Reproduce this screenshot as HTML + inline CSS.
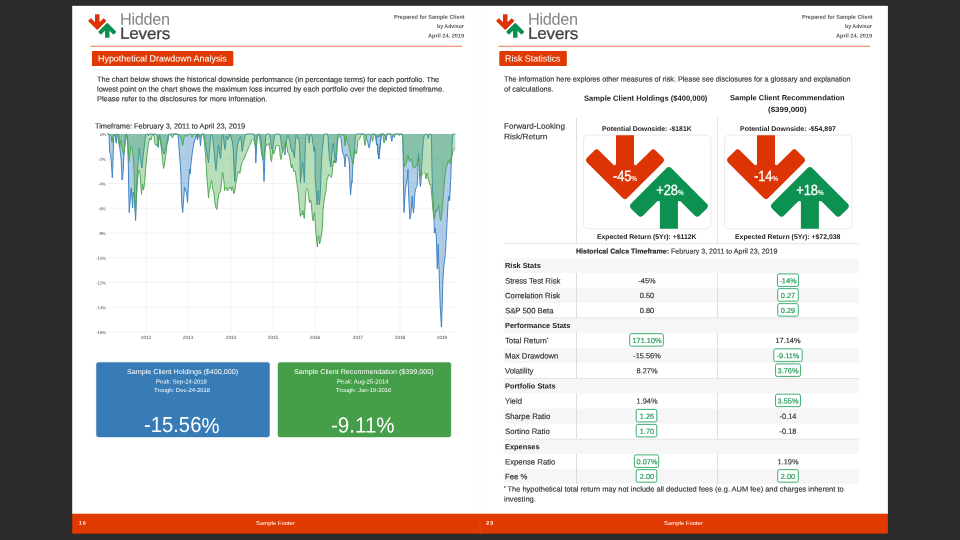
<!DOCTYPE html><html><head><meta charset="utf-8"><title>Risk Report</title><style>
html,body{margin:0;padding:0;background:#2b2b2b;width:960px;height:540px;overflow:hidden}
body{position:relative;font-family:'Liberation Sans', sans-serif}
.t{position:absolute;white-space:nowrap;display:block}.k{-webkit-text-stroke:0.15px currentColor}
.pg{position:absolute;top:5.6px;width:408px;height:528.4px;background:#fff}
.bar{position:absolute;background:#e03a02}
</style></head><body>
<svg style="position:absolute;left:0;top:0" width="960" height="540" viewBox="0 0 960 540"><rect x="71.90" y="5.50" width="816.30" height="528.50" fill="#1f1f1f"/><rect x="72.20" y="5.80" width="815.70" height="508.20" fill="#fff"/><rect x="479.75" y="5.80" width="0.50" height="507.90" fill="#f3f3f3"/><rect x="90.40" y="45.82" width="371.60" height="0.86" fill="#e8623c"/><rect x="498.40" y="45.82" width="371.60" height="0.86" fill="#e8623c"/><rect x="72.20" y="513.70" width="815.70" height="20.00" fill="#e03a02"/><rect x="479.80" y="513.70" width="0.50" height="20.00" fill="#e65a2a"/><rect x="91.95" y="51.10" width="141.35" height="14.95" fill="#e03a02" rx="1"/><rect x="499.30" y="51.10" width="67.50" height="14.95" fill="#e03a02" rx="1"/><rect x="96.40" y="362.40" width="173.10" height="74.60" fill="#377cb7" rx="2" stroke="#2f6fa8" stroke-width="0.4"/><rect x="278.00" y="362.40" width="172.90" height="74.60" fill="#459e48" rx="2" stroke="#3c8f40" stroke-width="0.4"/></svg>
<svg style="position:absolute;left:86.00px;top:12px" width="32" height="28" viewBox="86 12 32 28"><path d="M95.00 14.20L95.00 21.43A0.30 0.30 0 0 1 94.49 21.64L91.50 18.65A0.85 0.85 0 0 0 90.30 18.65L88.60 20.35A0.85 0.85 0 0 0 88.60 21.55L96.65 29.60A0.85 0.85 0 0 0 97.85 29.60L105.90 21.55A0.85 0.85 0 0 0 105.90 20.35L104.20 18.65A0.85 0.85 0 0 0 103.00 18.65L100.01 21.64A0.30 0.30 0 0 1 99.50 21.43L99.50 14.20Z" fill="#dc3405"/><path d="M105.00 37.80L105.00 31.37A0.30 0.30 0 0 0 104.49 31.16L101.50 34.15A0.85 0.85 0 0 1 100.30 34.15L98.60 32.45A0.85 0.85 0 0 1 98.60 31.25L106.65 23.20A0.85 0.85 0 0 1 107.85 23.20L115.90 31.25A0.85 0.85 0 0 1 115.90 32.45L114.20 34.15A0.85 0.85 0 0 1 113.00 34.15L110.01 31.16A0.30 0.30 0 0 0 109.50 31.37L109.50 37.80Z" fill="#0d9150"/></svg>
<svg style="position:absolute;left:494.00px;top:12px" width="32" height="28" viewBox="86 12 32 28"><path d="M95.00 14.20L95.00 21.43A0.30 0.30 0 0 1 94.49 21.64L91.50 18.65A0.85 0.85 0 0 0 90.30 18.65L88.60 20.35A0.85 0.85 0 0 0 88.60 21.55L96.65 29.60A0.85 0.85 0 0 0 97.85 29.60L105.90 21.55A0.85 0.85 0 0 0 105.90 20.35L104.20 18.65A0.85 0.85 0 0 0 103.00 18.65L100.01 21.64A0.30 0.30 0 0 1 99.50 21.43L99.50 14.20Z" fill="#dc3405"/><path d="M105.00 37.80L105.00 31.37A0.30 0.30 0 0 0 104.49 31.16L101.50 34.15A0.85 0.85 0 0 1 100.30 34.15L98.60 32.45A0.85 0.85 0 0 1 98.60 31.25L106.65 23.20A0.85 0.85 0 0 1 107.85 23.20L115.90 31.25A0.85 0.85 0 0 1 115.90 32.45L114.20 34.15A0.85 0.85 0 0 1 113.00 34.15L110.01 31.16A0.30 0.30 0 0 0 109.50 31.37L109.50 37.80Z" fill="#0d9150"/></svg>
<svg style="position:absolute;left:100px;top:128px" width="362" height="210" viewBox="100 128 362 210"><g stroke="#ebebeb" stroke-width="0.6"><path d="M107.6 158.75H455.4"/><path d="M107.6 183.50H455.4"/><path d="M107.6 208.25H455.4"/><path d="M107.6 233.00H455.4"/><path d="M107.6 257.75H455.4"/><path d="M107.6 282.50H455.4"/><path d="M107.6 307.25H455.4"/><path d="M107.6 332.00H455.4"/><path d="M146.00 134.0V332.0"/><path d="M188.35 134.0V332.0"/><path d="M230.70 134.0V332.0"/><path d="M273.05 134.0V332.0"/><path d="M315.40 134.0V332.0"/><path d="M357.75 134.0V332.0"/><path d="M400.10 134.0V332.0"/><path d="M442.45 134.0V332.0"/></g><path d="M107.3 134.0L109.0 134.2L109.3 143.0L109.6 152.5L110.6 154.0L111.5 165.0L112.3 177.8L112.8 168.0L113.3 150.0L113.7 137.0L114.2 134.2L115.0 135.0L115.6 139.0L116.2 143.2L116.7 138.0L117.2 134.5L118.0 134.0L118.8 134.5L119.2 140.0L119.8 148.0L120.5 153.5L121.2 160.0L122.0 180.0L122.5 179.0L123.2 172.0L123.8 158.0L124.5 148.0L125.0 140.0L125.5 134.5L126.5 134.0L127.2 136.0L127.7 143.0L128.0 155.0L128.3 163.0L128.6 184.0L129.2 212.5L130.2 200.0L131.2 188.0L132.0 199.0L132.6 208.0L133.2 192.0L134.0 196.0L135.0 210.0L135.6 220.5L136.3 200.0L137.0 178.0L138.0 164.0L139.2 148.0L140.5 160.0L142.0 168.0L143.5 153.0L144.5 145.0L145.5 135.0L146.5 134.0L148.0 134.2L148.5 136.0L149.0 134.2L151.0 134.0L154.0 134.2L156.0 134.0L157.5 136.0L158.2 147.5L158.8 138.0L159.5 134.5L160.5 140.0L162.0 148.0L164.0 154.0L165.2 150.0L166.5 145.0L168.0 141.0L168.5 136.0L169.2 134.2L174.0 134.0L178.0 134.2L178.5 140.0L179.0 148.0L179.8 158.0L180.5 168.0L181.0 178.0L181.4 195.0L182.0 206.0L182.7 212.5L183.6 200.0L184.5 187.0L185.5 190.0L186.5 193.0L187.5 202.5L188.2 190.0L188.6 183.0L189.0 176.0L189.7 169.0L190.2 174.0L191.0 163.0L192.0 155.0L193.0 148.0L194.0 143.0L195.0 139.0L196.0 136.0L197.0 134.5L197.5 139.5L198.0 135.0L199.0 134.2L196.0 134.5L196.8 136.0L197.4 140.0L198.0 135.0L199.0 134.2L199.8 138.0L200.5 146.0L201.2 138.0L201.8 134.2L203.0 134.0L204.0 134.5L205.0 140.0L206.0 148.0L207.0 154.0L208.5 163.0L209.5 150.0L210.5 138.0L211.0 134.2L211.8 135.0L212.8 139.0L214.0 150.0L215.0 162.0L216.0 170.5L217.0 160.0L218.0 149.0L218.5 145.0L219.2 150.0L220.0 156.0L220.7 158.5L221.5 145.0L222.2 136.0L222.8 134.2L223.5 136.0L224.3 145.0L225.0 149.5L225.8 142.0L226.5 136.0L227.2 138.0L228.0 139.5L229.0 137.0L230.0 134.2L230.8 136.0L231.5 139.0L232.5 142.0L233.2 150.0L234.0 170.0L234.8 182.0L235.5 170.0L236.5 155.0L237.5 145.0L238.5 142.0L239.5 139.0L240.5 136.5L241.2 140.0L242.0 151.5L243.0 147.0L244.0 140.0L245.0 136.0L246.0 134.2L248.0 134.0L252.0 134.0L254.0 134.2L254.8 140.0L255.5 149.0L255.8 163.0L256.4 150.0L257.0 138.0L257.8 134.2L258.8 134.0L260.0 134.5L261.0 140.0L262.0 150.0L263.0 159.0L263.6 170.0L264.0 181.5L264.5 170.0L265.0 150.0L265.5 140.0L266.2 134.5L268.0 134.0L269.5 134.2L270.5 140.0L271.5 148.0L272.5 150.0L273.5 143.0L274.5 136.0L275.5 134.2L279.0 134.0L280.5 136.0L281.5 145.0L282.5 150.0L284.0 151.5L285.0 155.0L285.7 144.0L286.5 140.0L287.5 136.0L288.0 135.0L288.0 135.0L289.0 138.0L290.0 142.0L291.0 148.0L292.0 151.5L293.0 150.0L293.8 155.0L294.5 158.0L295.2 145.0L296.0 135.0L296.8 136.0L297.5 138.5L298.5 137.5L299.2 142.0L299.8 155.0L300.2 170.0L300.4 183.0L300.7 178.0L301.1 177.0L301.8 168.0L302.6 162.0L303.2 168.0L303.8 175.0L304.3 182.5L304.6 174.0L305.0 155.0L305.5 140.0L306.0 134.5L307.0 134.0L308.0 134.2L308.5 138.0L309.2 143.0L309.8 137.0L310.5 134.2L311.5 134.5L312.0 136.0L312.8 143.0L313.5 146.0L314.0 151.5L314.6 147.0L315.0 155.0L315.2 178.0L315.8 186.0L316.5 196.0L317.2 205.0L317.8 198.0L318.3 191.0L318.8 198.0L319.4 205.0L320.0 198.0L320.5 188.0L320.8 178.0L321.0 173.0L321.6 160.0L322.2 150.0L322.8 145.0L323.5 138.0L324.0 134.5L325.0 134.0L327.5 134.0L328.0 136.0L328.5 145.0L329.2 155.0L330.0 162.0L330.8 167.0L331.5 160.0L332.2 150.0L332.8 145.0L333.5 143.0L334.0 150.0L334.8 158.0L335.5 163.0L336.2 162.0L336.8 155.0L337.2 142.0L337.7 134.5L338.5 134.0L339.5 134.2L340.0 135.5L340.8 137.0L341.5 142.0L342.2 150.0L343.0 154.0L343.8 155.0L344.5 160.0L345.0 167.0L345.5 158.0L346.0 154.0L347.0 155.5L348.0 157.0L348.8 159.0L349.5 165.0L349.8 178.0L350.0 186.0L350.6 195.0L351.2 187.0L351.8 181.0L352.2 182.5L352.5 170.0L353.0 164.0L353.8 158.0L354.5 150.0L355.0 142.0L355.5 136.0L356.0 134.2L358.0 134.0L362.0 134.0L365.0 134.2L366.0 136.0L366.7 140.0L367.5 140.5L368.3 145.0L369.2 148.0L370.0 144.0L370.8 138.0L371.5 134.5L373.0 134.0L375.0 134.2L375.8 138.0L376.5 145.0L377.2 144.0L378.0 153.0L378.8 159.0L379.5 152.0L380.2 145.0L381.0 137.0L381.7 134.2L383.0 134.0L376.0 138.0L376.8 145.0L377.5 144.0L378.2 153.0L378.8 159.0L379.5 152.0L380.2 145.0L381.0 137.0L381.7 134.2L383.0 134.0L384.5 134.5L385.2 137.0L386.0 140.5L386.8 136.0L387.5 134.2L390.0 134.0L390.8 136.0L391.8 141.5L392.5 137.0L393.2 134.5L394.5 134.0L398.5 134.2L399.5 135.5L400.2 134.2L402.2 134.0L402.8 140.0L403.2 160.0L403.4 178.0L403.6 193.0L404.0 212.5L404.8 198.0L405.5 188.0L406.2 184.0L407.0 181.0L408.0 169.5L408.2 184.0L408.8 198.0L409.5 212.0L410.0 219.0L410.8 215.0L411.5 206.0L412.2 196.0L412.8 207.0L413.4 213.0L414.0 208.0L414.5 198.0L415.2 191.0L416.0 188.0L416.8 186.5L417.4 183.0L417.8 170.0L418.0 160.0L418.5 153.5L419.0 160.0L419.6 178.0L420.3 186.5L421.0 182.0L421.5 170.0L422.0 160.0L423.0 145.0L424.0 136.0L425.0 134.2L426.0 134.0L427.5 134.5L428.2 138.5L429.0 134.5L430.0 134.0L431.0 134.2L431.5 140.0L431.8 160.0L432.2 178.0L432.5 188.0L433.2 203.0L434.0 218.0L434.3 230.0L434.3 233.0L435.1 228.0L436.3 236.0L437.3 269.0L438.2 244.4L439.2 275.0L440.2 305.6L441.4 327.0L442.2 305.6L442.9 281.0L443.9 265.0L445.3 254.6L446.1 240.0L446.5 232.0L447.0 223.0L447.5 213.0L448.0 203.0L448.5 198.0L449.0 196.0L449.6 201.0L450.0 193.0L450.5 183.0L450.8 178.0L451.0 170.0L451.5 160.0L452.0 145.0L452.5 135.0L453.2 134.0L455.3 134.0L455.3 134L107.3 134Z" fill="#3a82c4" fill-opacity="0.4" stroke="none"/><path d="M107.3 134.0L109.0 134.2L109.3 143.0L109.6 152.5L110.6 154.0L111.5 165.0L112.3 177.8L112.8 168.0L113.3 150.0L113.7 137.0L114.2 134.2L115.0 135.0L115.6 139.0L116.2 143.2L116.7 138.0L117.2 134.5L118.0 134.0L118.8 134.5L119.2 140.0L119.8 148.0L120.5 153.5L121.2 160.0L122.0 180.0L122.5 179.0L123.2 172.0L123.8 158.0L124.5 148.0L125.0 140.0L125.5 134.5L126.5 134.0L127.2 136.0L127.7 143.0L128.0 155.0L128.3 163.0L128.6 184.0L129.2 212.5L130.2 200.0L131.2 188.0L132.0 199.0L132.6 208.0L133.2 192.0L134.0 196.0L135.0 210.0L135.6 220.5L136.3 200.0L137.0 178.0L138.0 164.0L139.2 148.0L140.5 160.0L142.0 168.0L143.5 153.0L144.5 145.0L145.5 135.0L146.5 134.0L148.0 134.2L148.5 136.0L149.0 134.2L151.0 134.0L154.0 134.2L156.0 134.0L157.5 136.0L158.2 147.5L158.8 138.0L159.5 134.5L160.5 140.0L162.0 148.0L164.0 154.0L165.2 150.0L166.5 145.0L168.0 141.0L168.5 136.0L169.2 134.2L174.0 134.0L178.0 134.2L178.5 140.0L179.0 148.0L179.8 158.0L180.5 168.0L181.0 178.0L181.4 195.0L182.0 206.0L182.7 212.5L183.6 200.0L184.5 187.0L185.5 190.0L186.5 193.0L187.5 202.5L188.2 190.0L188.6 183.0L189.0 176.0L189.7 169.0L190.2 174.0L191.0 163.0L192.0 155.0L193.0 148.0L194.0 143.0L195.0 139.0L196.0 136.0L197.0 134.5L197.5 139.5L198.0 135.0L199.0 134.2L196.0 134.5L196.8 136.0L197.4 140.0L198.0 135.0L199.0 134.2L199.8 138.0L200.5 146.0L201.2 138.0L201.8 134.2L203.0 134.0L204.0 134.5L205.0 140.0L206.0 148.0L207.0 154.0L208.5 163.0L209.5 150.0L210.5 138.0L211.0 134.2L211.8 135.0L212.8 139.0L214.0 150.0L215.0 162.0L216.0 170.5L217.0 160.0L218.0 149.0L218.5 145.0L219.2 150.0L220.0 156.0L220.7 158.5L221.5 145.0L222.2 136.0L222.8 134.2L223.5 136.0L224.3 145.0L225.0 149.5L225.8 142.0L226.5 136.0L227.2 138.0L228.0 139.5L229.0 137.0L230.0 134.2L230.8 136.0L231.5 139.0L232.5 142.0L233.2 150.0L234.0 170.0L234.8 182.0L235.5 170.0L236.5 155.0L237.5 145.0L238.5 142.0L239.5 139.0L240.5 136.5L241.2 140.0L242.0 151.5L243.0 147.0L244.0 140.0L245.0 136.0L246.0 134.2L248.0 134.0L252.0 134.0L254.0 134.2L254.8 140.0L255.5 149.0L255.8 163.0L256.4 150.0L257.0 138.0L257.8 134.2L258.8 134.0L260.0 134.5L261.0 140.0L262.0 150.0L263.0 159.0L263.6 170.0L264.0 181.5L264.5 170.0L265.0 150.0L265.5 140.0L266.2 134.5L268.0 134.0L269.5 134.2L270.5 140.0L271.5 148.0L272.5 150.0L273.5 143.0L274.5 136.0L275.5 134.2L279.0 134.0L280.5 136.0L281.5 145.0L282.5 150.0L284.0 151.5L285.0 155.0L285.7 144.0L286.5 140.0L287.5 136.0L288.0 135.0L288.0 135.0L289.0 138.0L290.0 142.0L291.0 148.0L292.0 151.5L293.0 150.0L293.8 155.0L294.5 158.0L295.2 145.0L296.0 135.0L296.8 136.0L297.5 138.5L298.5 137.5L299.2 142.0L299.8 155.0L300.2 170.0L300.4 183.0L300.7 178.0L301.1 177.0L301.8 168.0L302.6 162.0L303.2 168.0L303.8 175.0L304.3 182.5L304.6 174.0L305.0 155.0L305.5 140.0L306.0 134.5L307.0 134.0L308.0 134.2L308.5 138.0L309.2 143.0L309.8 137.0L310.5 134.2L311.5 134.5L312.0 136.0L312.8 143.0L313.5 146.0L314.0 151.5L314.6 147.0L315.0 155.0L315.2 178.0L315.8 186.0L316.5 196.0L317.2 205.0L317.8 198.0L318.3 191.0L318.8 198.0L319.4 205.0L320.0 198.0L320.5 188.0L320.8 178.0L321.0 173.0L321.6 160.0L322.2 150.0L322.8 145.0L323.5 138.0L324.0 134.5L325.0 134.0L327.5 134.0L328.0 136.0L328.5 145.0L329.2 155.0L330.0 162.0L330.8 167.0L331.5 160.0L332.2 150.0L332.8 145.0L333.5 143.0L334.0 150.0L334.8 158.0L335.5 163.0L336.2 162.0L336.8 155.0L337.2 142.0L337.7 134.5L338.5 134.0L339.5 134.2L340.0 135.5L340.8 137.0L341.5 142.0L342.2 150.0L343.0 154.0L343.8 155.0L344.5 160.0L345.0 167.0L345.5 158.0L346.0 154.0L347.0 155.5L348.0 157.0L348.8 159.0L349.5 165.0L349.8 178.0L350.0 186.0L350.6 195.0L351.2 187.0L351.8 181.0L352.2 182.5L352.5 170.0L353.0 164.0L353.8 158.0L354.5 150.0L355.0 142.0L355.5 136.0L356.0 134.2L358.0 134.0L362.0 134.0L365.0 134.2L366.0 136.0L366.7 140.0L367.5 140.5L368.3 145.0L369.2 148.0L370.0 144.0L370.8 138.0L371.5 134.5L373.0 134.0L375.0 134.2L375.8 138.0L376.5 145.0L377.2 144.0L378.0 153.0L378.8 159.0L379.5 152.0L380.2 145.0L381.0 137.0L381.7 134.2L383.0 134.0L376.0 138.0L376.8 145.0L377.5 144.0L378.2 153.0L378.8 159.0L379.5 152.0L380.2 145.0L381.0 137.0L381.7 134.2L383.0 134.0L384.5 134.5L385.2 137.0L386.0 140.5L386.8 136.0L387.5 134.2L390.0 134.0L390.8 136.0L391.8 141.5L392.5 137.0L393.2 134.5L394.5 134.0L398.5 134.2L399.5 135.5L400.2 134.2L402.2 134.0L402.8 140.0L403.2 160.0L403.4 178.0L403.6 193.0L404.0 212.5L404.8 198.0L405.5 188.0L406.2 184.0L407.0 181.0L408.0 169.5L408.2 184.0L408.8 198.0L409.5 212.0L410.0 219.0L410.8 215.0L411.5 206.0L412.2 196.0L412.8 207.0L413.4 213.0L414.0 208.0L414.5 198.0L415.2 191.0L416.0 188.0L416.8 186.5L417.4 183.0L417.8 170.0L418.0 160.0L418.5 153.5L419.0 160.0L419.6 178.0L420.3 186.5L421.0 182.0L421.5 170.0L422.0 160.0L423.0 145.0L424.0 136.0L425.0 134.2L426.0 134.0L427.5 134.5L428.2 138.5L429.0 134.5L430.0 134.0L431.0 134.2L431.5 140.0L431.8 160.0L432.2 178.0L432.5 188.0L433.2 203.0L434.0 218.0L434.3 230.0L434.3 233.0L435.1 228.0L436.3 236.0L437.3 269.0L438.2 244.4L439.2 275.0L440.2 305.6L441.4 327.0L442.2 305.6L442.9 281.0L443.9 265.0L445.3 254.6L446.1 240.0L446.5 232.0L447.0 223.0L447.5 213.0L448.0 203.0L448.5 198.0L449.0 196.0L449.6 201.0L450.0 193.0L450.5 183.0L450.8 178.0L451.0 170.0L451.5 160.0L452.0 145.0L452.5 135.0L453.2 134.0L455.3 134.0" fill="none" stroke="#3a80c2" stroke-width="0.95" stroke-linejoin="round"/><path d="M107.3 134.0L110.0 134.5L111.2 136.0L112.0 142.5L112.8 137.0L113.5 134.5L114.5 135.0L115.2 136.0L115.8 134.5L116.8 134.2L117.8 137.0L118.8 143.0L119.7 147.8L120.3 143.0L120.8 140.0L121.5 144.0L122.5 150.0L123.5 154.8L124.3 151.0L125.0 145.0L125.8 140.0L126.8 135.5L127.5 138.0L128.2 148.0L129.0 161.5L129.8 154.0L130.5 150.0L131.2 146.0L132.2 148.5L133.0 155.0L133.7 163.0L134.3 178.0L134.8 200.0L135.6 215.0L136.2 200.0L137.0 188.0L137.8 178.0L138.5 172.0L139.2 170.0L140.0 173.0L140.8 184.0L141.5 194.5L142.5 184.0L143.5 190.0L144.5 184.0L145.5 170.0L147.0 155.0L148.5 143.0L150.0 138.0L151.0 140.0L152.0 136.0L153.0 134.2L154.0 136.0L155.0 144.0L156.0 145.5L157.0 144.0L158.0 146.5L158.8 140.0L159.5 135.0L160.5 142.0L161.5 150.0L162.5 159.0L163.5 168.5L164.5 164.0L165.5 157.0L166.5 150.0L167.2 141.0L168.0 136.0L169.0 134.5L170.5 135.0L171.5 136.0L172.5 138.0L173.2 136.0L174.0 134.2L176.0 134.0L178.0 134.5L179.5 135.5L181.0 138.0L182.0 143.0L182.7 145.5L183.5 141.0L184.5 136.0L185.5 135.0L187.0 136.5L188.0 135.0L189.0 134.0L191.0 134.2L192.0 137.5L193.0 135.0L194.0 134.5L195.5 134.2L196.0 134.2L198.0 135.5L200.0 137.0L201.5 134.5L202.5 134.0L203.5 136.0L204.5 143.0L205.5 155.0L206.5 170.0L207.0 178.0L207.8 188.0L208.5 198.0L209.2 190.0L210.0 189.0L210.8 183.0L211.5 180.5L212.2 184.0L213.0 191.0L214.0 193.0L215.0 203.0L216.0 208.0L216.8 209.5L217.5 205.0L218.2 198.0L219.0 193.0L220.0 192.5L220.8 190.0L221.5 182.0L222.0 178.0L222.5 172.5L223.0 174.0L223.5 178.0L224.2 184.0L224.6 190.5L225.2 188.0L226.0 188.5L226.8 187.5L227.2 191.0L228.0 190.0L228.8 189.5L229.5 187.0L230.2 188.0L231.0 187.5L231.5 190.5L232.2 186.5L232.8 187.5L233.5 193.5L234.5 193.0L235.2 188.0L236.0 183.0L236.8 178.0L237.5 174.0L238.5 171.0L239.8 173.5L240.5 170.0L241.5 164.0L242.5 161.5L244.0 159.0L245.5 155.0L247.0 151.5L248.5 148.0L249.5 145.5L250.5 144.0L251.5 140.0L252.5 139.0L254.0 140.0L255.0 145.0L255.7 148.0L256.5 142.0L257.5 136.0L258.5 134.2L259.5 138.0L260.5 145.0L261.5 153.0L262.5 158.5L263.5 160.0L264.5 154.0L265.5 147.0L266.5 145.0L268.0 145.0L269.0 143.0L270.0 150.0L270.8 159.0L271.5 162.0L272.2 155.0L272.8 150.0L273.5 154.0L274.5 152.0L275.5 148.0L276.5 145.0L277.5 146.0L278.5 145.0L279.5 147.0L280.2 156.0L281.0 159.5L281.8 155.0L282.5 151.0L284.0 148.0L285.0 143.0L286.0 141.0L287.0 147.0L287.5 151.0L288.0 153.0L289.0 154.0L289.8 158.0L290.5 163.0L291.5 168.0L292.2 164.5L293.0 168.0L294.0 172.0L295.0 171.0L295.8 175.0L296.5 181.0L297.0 184.0L298.0 191.0L298.8 200.0L299.5 208.0L300.0 214.0L300.5 216.5L301.2 213.5L302.0 215.0L302.8 210.5L303.5 214.0L304.3 218.5L305.0 208.0L305.5 198.0L306.0 189.5L306.8 188.5L307.7 189.0L308.3 193.0L309.0 200.0L309.7 203.0L310.5 200.0L311.2 202.0L311.8 210.0L312.5 218.0L313.2 221.0L313.8 216.0L314.5 212.5L315.0 218.0L315.6 228.0L316.0 234.0L316.8 242.0L317.4 247.0L318.2 236.0L318.8 235.5L319.6 244.0L320.5 240.0L321.5 235.0L322.2 230.0L322.6 223.0L323.0 211.0L323.8 203.0L324.5 198.0L325.2 194.0L326.0 191.0L326.5 184.0L327.2 178.0L327.8 178.0L328.5 174.5L329.5 175.5L330.5 176.5L331.2 177.5L332.0 174.0L332.7 168.0L333.5 160.5L334.2 163.0L335.0 160.0L335.8 155.0L336.5 150.0L337.2 145.0L338.0 139.0L339.0 137.0L340.0 135.0L341.0 134.2L342.0 135.0L342.8 134.5L343.5 136.0L344.0 134.2L344.5 140.0L345.0 146.0L345.5 140.0L346.0 136.0L347.0 140.0L348.0 144.0L349.0 146.5L350.0 152.0L350.8 156.0L351.8 159.0L352.5 164.0L353.2 162.0L354.0 155.0L354.8 150.0L355.5 153.0L356.2 154.0L357.0 150.0L357.7 142.0L358.5 140.0L359.5 139.0L360.2 137.0L361.0 135.0L362.0 134.2L363.5 134.5L364.2 140.0L365.0 145.5L365.8 140.0L366.5 135.0L367.5 134.2L369.0 134.5L370.0 134.2L371.5 136.0L372.5 141.5L373.3 138.0L374.0 134.5L375.0 134.2L376.0 135.0L377.0 137.0L378.0 136.0L379.0 135.0L380.0 134.2L382.0 134.0L383.0 134.5L383.5 141.0L384.2 143.0L385.0 139.0L385.8 135.5L386.5 134.2L389.0 134.0L391.0 134.2L392.5 134.5L393.5 135.5L394.3 137.5L395.0 135.0L396.0 134.2L399.0 134.0L402.2 134.0L402.8 138.0L403.2 150.0L403.8 160.0L404.5 167.0L405.2 164.5L406.0 164.0L406.8 162.0L407.5 156.0L408.2 155.0L408.8 159.0L409.5 161.5L410.2 160.0L411.0 159.0L411.8 160.0L412.5 165.0L413.2 167.5L414.0 168.0L414.8 167.0L415.5 167.5L416.2 166.0L417.0 164.0L417.8 161.0L418.5 159.0L419.2 163.0L419.8 170.0L420.5 176.5L421.2 176.0L422.0 174.0L423.0 173.5L424.0 172.5L424.8 173.0L425.5 174.0L426.0 179.0L426.5 176.0L427.0 173.0L427.6 174.0L428.2 179.0L429.0 182.0L430.0 185.0L430.8 184.0L431.3 190.0L432.0 198.0L432.8 208.0L433.5 215.0L434.2 219.0L435.0 216.0L435.6 210.0L436.3 211.0L437.0 211.5L437.8 208.0L438.6 205.0L439.2 208.0L439.8 216.0L440.5 221.0L441.2 218.0L442.0 211.0L442.8 202.0L443.5 193.0L444.2 185.0L444.8 178.0L445.5 173.0L446.2 168.0L447.0 165.0L447.8 162.0L448.5 160.0L449.2 162.0L449.8 164.0L450.5 160.0L451.2 158.0L452.0 156.0L452.8 152.0L453.5 149.5L454.5 149.0L455.3 148.5L455.3 134L107.3 134Z" fill="#4caf50" fill-opacity="0.4" stroke="none"/><path d="M107.3 134.0L110.0 134.5L111.2 136.0L112.0 142.5L112.8 137.0L113.5 134.5L114.5 135.0L115.2 136.0L115.8 134.5L116.8 134.2L117.8 137.0L118.8 143.0L119.7 147.8L120.3 143.0L120.8 140.0L121.5 144.0L122.5 150.0L123.5 154.8L124.3 151.0L125.0 145.0L125.8 140.0L126.8 135.5L127.5 138.0L128.2 148.0L129.0 161.5L129.8 154.0L130.5 150.0L131.2 146.0L132.2 148.5L133.0 155.0L133.7 163.0L134.3 178.0L134.8 200.0L135.6 215.0L136.2 200.0L137.0 188.0L137.8 178.0L138.5 172.0L139.2 170.0L140.0 173.0L140.8 184.0L141.5 194.5L142.5 184.0L143.5 190.0L144.5 184.0L145.5 170.0L147.0 155.0L148.5 143.0L150.0 138.0L151.0 140.0L152.0 136.0L153.0 134.2L154.0 136.0L155.0 144.0L156.0 145.5L157.0 144.0L158.0 146.5L158.8 140.0L159.5 135.0L160.5 142.0L161.5 150.0L162.5 159.0L163.5 168.5L164.5 164.0L165.5 157.0L166.5 150.0L167.2 141.0L168.0 136.0L169.0 134.5L170.5 135.0L171.5 136.0L172.5 138.0L173.2 136.0L174.0 134.2L176.0 134.0L178.0 134.5L179.5 135.5L181.0 138.0L182.0 143.0L182.7 145.5L183.5 141.0L184.5 136.0L185.5 135.0L187.0 136.5L188.0 135.0L189.0 134.0L191.0 134.2L192.0 137.5L193.0 135.0L194.0 134.5L195.5 134.2L196.0 134.2L198.0 135.5L200.0 137.0L201.5 134.5L202.5 134.0L203.5 136.0L204.5 143.0L205.5 155.0L206.5 170.0L207.0 178.0L207.8 188.0L208.5 198.0L209.2 190.0L210.0 189.0L210.8 183.0L211.5 180.5L212.2 184.0L213.0 191.0L214.0 193.0L215.0 203.0L216.0 208.0L216.8 209.5L217.5 205.0L218.2 198.0L219.0 193.0L220.0 192.5L220.8 190.0L221.5 182.0L222.0 178.0L222.5 172.5L223.0 174.0L223.5 178.0L224.2 184.0L224.6 190.5L225.2 188.0L226.0 188.5L226.8 187.5L227.2 191.0L228.0 190.0L228.8 189.5L229.5 187.0L230.2 188.0L231.0 187.5L231.5 190.5L232.2 186.5L232.8 187.5L233.5 193.5L234.5 193.0L235.2 188.0L236.0 183.0L236.8 178.0L237.5 174.0L238.5 171.0L239.8 173.5L240.5 170.0L241.5 164.0L242.5 161.5L244.0 159.0L245.5 155.0L247.0 151.5L248.5 148.0L249.5 145.5L250.5 144.0L251.5 140.0L252.5 139.0L254.0 140.0L255.0 145.0L255.7 148.0L256.5 142.0L257.5 136.0L258.5 134.2L259.5 138.0L260.5 145.0L261.5 153.0L262.5 158.5L263.5 160.0L264.5 154.0L265.5 147.0L266.5 145.0L268.0 145.0L269.0 143.0L270.0 150.0L270.8 159.0L271.5 162.0L272.2 155.0L272.8 150.0L273.5 154.0L274.5 152.0L275.5 148.0L276.5 145.0L277.5 146.0L278.5 145.0L279.5 147.0L280.2 156.0L281.0 159.5L281.8 155.0L282.5 151.0L284.0 148.0L285.0 143.0L286.0 141.0L287.0 147.0L287.5 151.0L288.0 153.0L289.0 154.0L289.8 158.0L290.5 163.0L291.5 168.0L292.2 164.5L293.0 168.0L294.0 172.0L295.0 171.0L295.8 175.0L296.5 181.0L297.0 184.0L298.0 191.0L298.8 200.0L299.5 208.0L300.0 214.0L300.5 216.5L301.2 213.5L302.0 215.0L302.8 210.5L303.5 214.0L304.3 218.5L305.0 208.0L305.5 198.0L306.0 189.5L306.8 188.5L307.7 189.0L308.3 193.0L309.0 200.0L309.7 203.0L310.5 200.0L311.2 202.0L311.8 210.0L312.5 218.0L313.2 221.0L313.8 216.0L314.5 212.5L315.0 218.0L315.6 228.0L316.0 234.0L316.8 242.0L317.4 247.0L318.2 236.0L318.8 235.5L319.6 244.0L320.5 240.0L321.5 235.0L322.2 230.0L322.6 223.0L323.0 211.0L323.8 203.0L324.5 198.0L325.2 194.0L326.0 191.0L326.5 184.0L327.2 178.0L327.8 178.0L328.5 174.5L329.5 175.5L330.5 176.5L331.2 177.5L332.0 174.0L332.7 168.0L333.5 160.5L334.2 163.0L335.0 160.0L335.8 155.0L336.5 150.0L337.2 145.0L338.0 139.0L339.0 137.0L340.0 135.0L341.0 134.2L342.0 135.0L342.8 134.5L343.5 136.0L344.0 134.2L344.5 140.0L345.0 146.0L345.5 140.0L346.0 136.0L347.0 140.0L348.0 144.0L349.0 146.5L350.0 152.0L350.8 156.0L351.8 159.0L352.5 164.0L353.2 162.0L354.0 155.0L354.8 150.0L355.5 153.0L356.2 154.0L357.0 150.0L357.7 142.0L358.5 140.0L359.5 139.0L360.2 137.0L361.0 135.0L362.0 134.2L363.5 134.5L364.2 140.0L365.0 145.5L365.8 140.0L366.5 135.0L367.5 134.2L369.0 134.5L370.0 134.2L371.5 136.0L372.5 141.5L373.3 138.0L374.0 134.5L375.0 134.2L376.0 135.0L377.0 137.0L378.0 136.0L379.0 135.0L380.0 134.2L382.0 134.0L383.0 134.5L383.5 141.0L384.2 143.0L385.0 139.0L385.8 135.5L386.5 134.2L389.0 134.0L391.0 134.2L392.5 134.5L393.5 135.5L394.3 137.5L395.0 135.0L396.0 134.2L399.0 134.0L402.2 134.0L402.8 138.0L403.2 150.0L403.8 160.0L404.5 167.0L405.2 164.5L406.0 164.0L406.8 162.0L407.5 156.0L408.2 155.0L408.8 159.0L409.5 161.5L410.2 160.0L411.0 159.0L411.8 160.0L412.5 165.0L413.2 167.5L414.0 168.0L414.8 167.0L415.5 167.5L416.2 166.0L417.0 164.0L417.8 161.0L418.5 159.0L419.2 163.0L419.8 170.0L420.5 176.5L421.2 176.0L422.0 174.0L423.0 173.5L424.0 172.5L424.8 173.0L425.5 174.0L426.0 179.0L426.5 176.0L427.0 173.0L427.6 174.0L428.2 179.0L429.0 182.0L430.0 185.0L430.8 184.0L431.3 190.0L432.0 198.0L432.8 208.0L433.5 215.0L434.2 219.0L435.0 216.0L435.6 210.0L436.3 211.0L437.0 211.5L437.8 208.0L438.6 205.0L439.2 208.0L439.8 216.0L440.5 221.0L441.2 218.0L442.0 211.0L442.8 202.0L443.5 193.0L444.2 185.0L444.8 178.0L445.5 173.0L446.2 168.0L447.0 165.0L447.8 162.0L448.5 160.0L449.2 162.0L449.8 164.0L450.5 160.0L451.2 158.0L452.0 156.0L452.8 152.0L453.5 149.5L454.5 149.0L455.3 148.5" fill="none" stroke="#4da652" stroke-width="0.95" stroke-linejoin="round"/></svg>
<svg style="position:absolute;left:0;top:0" width="960" height="540" viewBox="0 0 960 540"><rect x="503.75" y="242.90" width="355.00" height="0.70" fill="#dcdcdc"/><rect x="576.25" y="118.00" width="0.70" height="125.20" fill="#d2d2d2"/><rect x="717.35" y="118.00" width="0.70" height="125.20" fill="#d2d2d2"/><rect x="503.75" y="258.21" width="355.00" height="14.63" fill="#f6f6f6"/><rect x="576.25" y="273.01" width="0.70" height="15.08" fill="#cfcfcf"/><rect x="717.35" y="273.01" width="0.70" height="15.08" fill="#cfcfcf"/><rect x="503.75" y="287.76" width="355.00" height="15.08" fill="#f6f6f6"/><rect x="576.25" y="287.76" width="0.70" height="15.08" fill="#cfcfcf"/><rect x="717.35" y="287.76" width="0.70" height="15.08" fill="#cfcfcf"/><rect x="576.25" y="302.76" width="0.70" height="15.08" fill="#cfcfcf"/><rect x="717.35" y="302.76" width="0.70" height="15.08" fill="#cfcfcf"/><rect x="503.75" y="318.21" width="355.00" height="14.63" fill="#f6f6f6"/><rect x="503.75" y="317.51" width="355.00" height="0.70" fill="#d9d9d9"/><rect x="576.25" y="332.76" width="0.70" height="15.08" fill="#cfcfcf"/><rect x="717.35" y="332.76" width="0.70" height="15.08" fill="#cfcfcf"/><rect x="503.75" y="348.01" width="355.00" height="15.08" fill="#f6f6f6"/><rect x="576.25" y="348.01" width="0.70" height="15.08" fill="#cfcfcf"/><rect x="717.35" y="348.01" width="0.70" height="15.08" fill="#cfcfcf"/><rect x="576.25" y="363.01" width="0.70" height="15.08" fill="#cfcfcf"/><rect x="717.35" y="363.01" width="0.70" height="15.08" fill="#cfcfcf"/><rect x="503.75" y="378.71" width="355.00" height="14.63" fill="#f6f6f6"/><rect x="503.75" y="378.01" width="355.00" height="0.70" fill="#d9d9d9"/><rect x="576.25" y="393.26" width="0.70" height="15.08" fill="#cfcfcf"/><rect x="717.35" y="393.26" width="0.70" height="15.08" fill="#cfcfcf"/><rect x="503.75" y="408.51" width="355.00" height="15.08" fill="#f6f6f6"/><rect x="576.25" y="408.51" width="0.70" height="15.08" fill="#cfcfcf"/><rect x="717.35" y="408.51" width="0.70" height="15.08" fill="#cfcfcf"/><rect x="576.25" y="423.51" width="0.70" height="15.08" fill="#cfcfcf"/><rect x="717.35" y="423.51" width="0.70" height="15.08" fill="#cfcfcf"/><rect x="503.75" y="439.46" width="355.00" height="14.63" fill="#f6f6f6"/><rect x="503.75" y="438.76" width="355.00" height="0.70" fill="#d9d9d9"/><rect x="576.25" y="454.01" width="0.70" height="15.08" fill="#cfcfcf"/><rect x="717.35" y="454.01" width="0.70" height="15.08" fill="#cfcfcf"/><rect x="503.75" y="468.76" width="355.00" height="15.08" fill="#f6f6f6"/><rect x="576.25" y="468.76" width="0.70" height="15.08" fill="#cfcfcf"/><rect x="717.35" y="468.76" width="0.70" height="15.08" fill="#cfcfcf"/><rect x="777.45" y="273.90" width="21.10" height="12.5" rx="1.6" fill="#fff" stroke="#33aa69" stroke-width="0.95"/><rect x="777.70" y="288.65" width="20.60" height="12.5" rx="1.6" fill="#fff" stroke="#33aa69" stroke-width="0.95"/><rect x="777.70" y="303.65" width="20.60" height="12.5" rx="1.6" fill="#fff" stroke="#33aa69" stroke-width="0.95"/><rect x="629.70" y="333.65" width="33.60" height="12.5" rx="1.6" fill="#fff" stroke="#33aa69" stroke-width="0.95"/><rect x="773.80" y="348.90" width="28.40" height="12.5" rx="1.6" fill="#fff" stroke="#33aa69" stroke-width="0.95"/><rect x="775.55" y="363.90" width="24.90" height="12.5" rx="1.6" fill="#fff" stroke="#33aa69" stroke-width="0.95"/><rect x="775.55" y="394.15" width="24.90" height="12.5" rx="1.6" fill="#fff" stroke="#33aa69" stroke-width="0.95"/><rect x="636.20" y="409.40" width="20.60" height="12.5" rx="1.6" fill="#fff" stroke="#33aa69" stroke-width="0.95"/><rect x="636.20" y="424.40" width="20.60" height="12.5" rx="1.6" fill="#fff" stroke="#33aa69" stroke-width="0.95"/><rect x="634.30" y="454.90" width="24.40" height="12.5" rx="1.6" fill="#fff" stroke="#33aa69" stroke-width="0.95"/><rect x="636.20" y="469.65" width="20.60" height="12.5" rx="1.6" fill="#fff" stroke="#33aa69" stroke-width="0.95"/><rect x="777.70" y="469.65" width="20.60" height="12.5" rx="1.6" fill="#fff" stroke="#33aa69" stroke-width="0.95"/></svg>
<svg style="position:absolute;left:578.00px;top:130px" width="140" height="104" viewBox="578 130 140 104"><rect x="583.5" y="135.2" width="127.4" height="93.6" rx="4" ry="4" fill="#fff" stroke="#e2e2e2" stroke-width="0.7"/><path d="M616.00 135.30L616.00 163.78A1.50 1.50 0 0 1 613.44 164.84L599.25 150.65A3.60 3.60 0 0 0 594.15 150.65L587.25 157.55A3.60 3.60 0 0 0 587.25 162.65L622.45 197.85A3.60 3.60 0 0 0 627.55 197.85L662.75 162.65A3.60 3.60 0 0 0 662.75 157.55L655.85 150.65A3.60 3.60 0 0 0 650.75 150.65L636.56 164.84A1.50 1.50 0 0 1 634.00 163.78L634.00 135.30Z" fill="#dc3405"/><path d="M659.90 228.70L659.90 202.42A1.50 1.50 0 0 0 657.34 201.36L643.15 215.55A3.60 3.60 0 0 1 638.05 215.55L631.15 208.65A3.60 3.60 0 0 1 631.15 203.55L666.35 168.35A3.60 3.60 0 0 1 671.45 168.35L706.65 203.55A3.60 3.60 0 0 1 706.65 208.65L699.75 215.55A3.60 3.60 0 0 1 694.65 215.55L680.46 201.36A1.50 1.50 0 0 0 677.90 202.42L677.90 228.70Z" fill="#0d9150"/></svg>
<svg style="position:absolute;left:718.80px;top:130px" width="140" height="104" viewBox="578 130 140 104"><rect x="583.5" y="135.2" width="127.4" height="93.6" rx="4" ry="4" fill="#fff" stroke="#e2e2e2" stroke-width="0.7"/><path d="M616.00 135.30L616.00 163.78A1.50 1.50 0 0 1 613.44 164.84L599.25 150.65A3.60 3.60 0 0 0 594.15 150.65L587.25 157.55A3.60 3.60 0 0 0 587.25 162.65L622.45 197.85A3.60 3.60 0 0 0 627.55 197.85L662.75 162.65A3.60 3.60 0 0 0 662.75 157.55L655.85 150.65A3.60 3.60 0 0 0 650.75 150.65L636.56 164.84A1.50 1.50 0 0 1 634.00 163.78L634.00 135.30Z" fill="#dc3405"/><path d="M659.90 228.70L659.90 202.42A1.50 1.50 0 0 0 657.34 201.36L643.15 215.55A3.60 3.60 0 0 1 638.05 215.55L631.15 208.65A3.60 3.60 0 0 1 631.15 203.55L666.35 168.35A3.60 3.60 0 0 1 671.45 168.35L706.65 203.55A3.60 3.60 0 0 1 706.65 208.65L699.75 215.55A3.60 3.60 0 0 1 694.65 215.55L680.46 201.36A1.50 1.50 0 0 0 677.90 202.42L677.90 228.70Z" fill="#0d9150"/></svg>
<span class="t" style="font-size:16.6px;color:#858585;top:9px;line-height:19.92px;left:119.60px;transform-origin:0 50%;transform:translateY(0.73px) rotate(0.03deg) scaleX(0.9822);letter-spacing:-0.3px;-webkit-text-stroke:0;">Hidden</span>
<span class="t" style="font-size:16.2px;color:#444;top:23px;line-height:19.44px;left:119.60px;transform-origin:0 50%;transform:translateY(0.87px) rotate(0.03deg) scaleX(1.0570);letter-spacing:-0.2px;-webkit-text-stroke:0.3px #444;">Levers</span>
<span class="t" style="font-size:5.5px;color:#555;font-weight:bold;top:13px;line-height:6.60px;left:393.60px;transform-origin:0 50%;transform:translateY(0.76px) rotate(0.03deg) scaleX(1.0012);">Prepared for Sample Client</span>
<span class="t" style="font-size:5.5px;color:#555;font-weight:bold;top:23px;line-height:6.60px;left:437.40px;transform-origin:0 50%;transform:translateY(0.01px) rotate(0.03deg) scaleX(0.9526);">by Advisor</span>
<span class="t" style="font-size:5.5px;color:#555;font-weight:bold;top:32px;line-height:6.60px;left:428.20px;transform-origin:0 50%;transform:translateY(0.51px) rotate(0.03deg) scaleX(1.0177);">April 24, 2019</span>
<span class="t" style="font-size:16.6px;color:#858585;top:9px;line-height:19.92px;left:527.60px;transform-origin:0 50%;transform:translateY(0.73px) rotate(0.03deg) scaleX(0.9822);letter-spacing:-0.3px;-webkit-text-stroke:0;">Hidden</span>
<span class="t" style="font-size:16.2px;color:#444;top:23px;line-height:19.44px;left:527.60px;transform-origin:0 50%;transform:translateY(0.87px) rotate(0.03deg) scaleX(1.0570);letter-spacing:-0.2px;-webkit-text-stroke:0.3px #444;">Levers</span>
<span class="t" style="font-size:5.5px;color:#555;font-weight:bold;top:13px;line-height:6.60px;left:801.60px;transform-origin:0 50%;transform:translateY(0.76px) rotate(0.03deg) scaleX(1.0012);">Prepared for Sample Client</span>
<span class="t" style="font-size:5.5px;color:#555;font-weight:bold;top:23px;line-height:6.60px;left:845.40px;transform-origin:0 50%;transform:translateY(0.01px) rotate(0.03deg) scaleX(0.9526);">by Advisor</span>
<span class="t" style="font-size:5.5px;color:#555;font-weight:bold;top:32px;line-height:6.60px;left:836.20px;transform-origin:0 50%;transform:translateY(0.51px) rotate(0.03deg) scaleX(1.0177);">April 24, 2019</span>
<span class="t" style="font-size:9px;color:#fff;top:53px;line-height:10.80px;left:98.00px;transform-origin:0 50%;transform:translateY(0.40px) rotate(0.03deg) scaleX(0.9903);-webkit-text-stroke:0.05px #fff;">Hypothetical Drawdown Analysis</span>
<span class="t k" style="font-size:7.3px;color:#333;top:75px;line-height:8.76px;left:96.90px;transform-origin:0 50%;transform:translateY(0.80px) rotate(0.03deg) scaleX(1.0131);">The chart below shows the historical downside performance (in percentage terms) for each portfolio. The</span>
<span class="t k" style="font-size:7.3px;color:#333;top:85px;line-height:8.76px;left:96.90px;transform-origin:0 50%;transform:translateY(0.40px) rotate(0.03deg) scaleX(1.0177);">lowest point on the chart shows the maximum loss incurred by each portfolio over the depicted timeframe.</span>
<span class="t k" style="font-size:7.3px;color:#333;top:95px;line-height:8.76px;left:96.90px;transform-origin:0 50%;transform:translateY(0.30px) rotate(0.03deg) scaleX(1.0173);">Please refer to the disclosures for more information.</span>
<span class="t k" style="font-size:7.3px;color:#333;top:122px;line-height:8.76px;left:95.15px;transform-origin:0 50%;transform:translateY(0.50px) rotate(0.03deg) scaleX(1.0114);">Timeframe: February 3, 2011 to April 23, 2019</span>
<span class="t" style="font-size:4.3px;color:#4a4a4a;top:131px;line-height:5.16px;right:854.10px;transform-origin:100% 50%;transform:translateY(0.97px) rotate(0.03deg);">0%</span>
<span class="t" style="font-size:4.3px;color:#4a4a4a;top:156px;line-height:5.16px;right:854.10px;transform-origin:100% 50%;transform:translateY(0.72px) rotate(0.03deg);">-2%</span>
<span class="t" style="font-size:4.3px;color:#4a4a4a;top:181px;line-height:5.16px;right:854.10px;transform-origin:100% 50%;transform:translateY(0.47px) rotate(0.03deg);">-4%</span>
<span class="t" style="font-size:4.3px;color:#4a4a4a;top:206px;line-height:5.16px;right:854.10px;transform-origin:100% 50%;transform:translateY(0.22px) rotate(0.03deg);">-6%</span>
<span class="t" style="font-size:4.3px;color:#4a4a4a;top:230px;line-height:5.16px;right:854.10px;transform-origin:100% 50%;transform:translateY(0.97px) rotate(0.03deg);">-8%</span>
<span class="t" style="font-size:4.3px;color:#4a4a4a;top:255px;line-height:5.16px;right:854.10px;transform-origin:100% 50%;transform:translateY(0.72px) rotate(0.03deg);">-10%</span>
<span class="t" style="font-size:4.3px;color:#4a4a4a;top:280px;line-height:5.16px;right:854.10px;transform-origin:100% 50%;transform:translateY(0.47px) rotate(0.03deg);">-12%</span>
<span class="t" style="font-size:4.3px;color:#4a4a4a;top:305px;line-height:5.16px;right:854.10px;transform-origin:100% 50%;transform:translateY(0.22px) rotate(0.03deg);">-14%</span>
<span class="t" style="font-size:4.3px;color:#4a4a4a;top:329px;line-height:5.16px;right:854.10px;transform-origin:100% 50%;transform:translateY(0.97px) rotate(0.03deg);">-16%</span>
<span class="t" style="font-size:4.7px;color:#3a3a3a;top:334px;line-height:5.64px;left:146.00px;transform:translate(-50%,0.93px) rotate(0.03deg);">2012</span>
<span class="t" style="font-size:4.7px;color:#3a3a3a;top:334px;line-height:5.64px;left:188.35px;transform:translate(-50%,0.93px) rotate(0.03deg);">2013</span>
<span class="t" style="font-size:4.7px;color:#3a3a3a;top:334px;line-height:5.64px;left:230.70px;transform:translate(-50%,0.93px) rotate(0.03deg);">2014</span>
<span class="t" style="font-size:4.7px;color:#3a3a3a;top:334px;line-height:5.64px;left:273.05px;transform:translate(-50%,0.93px) rotate(0.03deg);">2015</span>
<span class="t" style="font-size:4.7px;color:#3a3a3a;top:334px;line-height:5.64px;left:315.40px;transform:translate(-50%,0.93px) rotate(0.03deg);">2016</span>
<span class="t" style="font-size:4.7px;color:#3a3a3a;top:334px;line-height:5.64px;left:357.75px;transform:translate(-50%,0.93px) rotate(0.03deg);">2017</span>
<span class="t" style="font-size:4.7px;color:#3a3a3a;top:334px;line-height:5.64px;left:400.10px;transform:translate(-50%,0.93px) rotate(0.03deg);">2018</span>
<span class="t" style="font-size:4.7px;color:#3a3a3a;top:334px;line-height:5.64px;left:442.45px;transform:translate(-50%,0.93px) rotate(0.03deg);">2019</span>
<span class="t" style="font-size:7px;color:#fff;top:367px;line-height:8.40px;left:126.90px;transform-origin:0 50%;transform:translateY(0.88px) rotate(0.03deg) scaleX(1.0238);">Sample Client Holdings ($400,000)</span>
<span class="t" style="font-size:5.8px;color:#fff;top:378px;line-height:6.96px;left:155.90px;transform-origin:0 50%;transform:translateY(0.49px) rotate(0.03deg) scaleX(1.0189);">Peak: Sep-24-2018</span>
<span class="t" style="font-size:5.8px;color:#fff;top:386px;line-height:6.96px;left:154.15px;transform-origin:0 50%;transform:translateY(0.99px) rotate(0.03deg) scaleX(1.0229);">Trough: Dec-24-2018</span>
<span class="t" style="font-size:21.8px;color:#fff;top:412px;line-height:26.16px;left:143.65px;transform-origin:0 50%;transform:translateY(0.47px) rotate(0.03deg) scaleX(0.9286);">-15.56%</span>
<span class="t" style="font-size:7px;color:#fff;top:367px;line-height:8.40px;left:293.90px;transform-origin:0 50%;transform:translateY(0.88px) rotate(0.03deg) scaleX(1.0254);">Sample Client Recommendation ($399,000)</span>
<span class="t" style="font-size:5.8px;color:#fff;top:378px;line-height:6.96px;left:337.15px;transform-origin:0 50%;transform:translateY(0.49px) rotate(0.03deg) scaleX(1.0404);">Peak: Aug-25-2014</span>
<span class="t" style="font-size:5.8px;color:#fff;top:386px;line-height:6.96px;left:336.40px;transform-origin:0 50%;transform:translateY(0.99px) rotate(0.03deg) scaleX(1.0271);">Trough: Jan-19-2016</span>
<span class="t" style="font-size:21.8px;color:#fff;top:412px;line-height:26.16px;left:330.90px;transform-origin:0 50%;transform:translateY(0.47px) rotate(0.03deg) scaleX(0.9434);">-9.11%</span>
<span class="t" style="font-size:4.6px;color:#fff;font-weight:bold;top:520px;line-height:5.52px;left:79.40px;transform-origin:0 50%;transform:translateY(0.49px) rotate(0.03deg) scaleX(1.1718);letter-spacing:0.6px;">16</span>
<span class="t" style="font-size:5.6px;color:#fff;top:520px;line-height:6.72px;left:256.40px;transform-origin:0 50%;transform:translateY(0.00px) rotate(0.03deg) scaleX(1.0602);">Sample Footer</span>
<span class="t" style="font-size:4.6px;color:#fff;font-weight:bold;top:520px;line-height:5.52px;left:486.15px;transform-origin:0 50%;transform:translateY(0.49px) rotate(0.03deg) scaleX(1.2906);letter-spacing:0.6px;">23</span>
<span class="t" style="font-size:5.6px;color:#fff;top:520px;line-height:6.72px;left:664.40px;transform-origin:0 50%;transform:translateY(0.00px) rotate(0.03deg) scaleX(1.0602);">Sample Footer</span>
<span class="t" style="font-size:9px;color:#fff;top:53px;line-height:10.80px;left:505.20px;transform-origin:0 50%;transform:translateY(0.40px) rotate(0.03deg) scaleX(0.9925);-webkit-text-stroke:0.05px #fff;">Risk Statistics</span>
<span class="t k" style="font-size:7.3px;color:#333;top:75px;line-height:8.76px;left:503.90px;transform-origin:0 50%;transform:translateY(0.40px) rotate(0.03deg) scaleX(0.9926);">The information here explores other measures of risk. Please see disclosures for a glossary and explanation</span>
<span class="t k" style="font-size:7.3px;color:#333;top:85px;line-height:8.76px;left:503.90px;transform-origin:0 50%;transform:translateY(0.40px) rotate(0.03deg) scaleX(1.0282);">of calculations.</span>
<span class="t" style="font-size:7.5px;color:#222;font-weight:bold;top:93px;line-height:9.00px;left:584.40px;transform-origin:0 50%;transform:translateY(0.69px) rotate(0.03deg) scaleX(1.0104);">Sample Client Holdings ($400,000)</span>
<span class="t" style="font-size:7.5px;color:#222;font-weight:bold;top:93px;line-height:9.00px;left:729.90px;transform-origin:0 50%;transform:translateY(0.29px) rotate(0.03deg) scaleX(1.0003);">Sample Client Recommendation</span>
<span class="t" style="font-size:7.5px;color:#222;font-weight:bold;top:104px;line-height:9.00px;left:768.15px;transform-origin:0 50%;transform:translateY(0.99px) rotate(0.03deg) scaleX(1.0651);">($399,000)</span>
<span class="t k" style="font-size:8px;color:#333;top:121px;line-height:9.60px;left:504.40px;transform-origin:0 50%;transform:translateY(0.69px) rotate(0.03deg) scaleX(1.0144);">Forward-Looking</span>
<span class="t k" style="font-size:8px;color:#333;top:132px;line-height:9.60px;left:504.40px;transform-origin:0 50%;transform:translateY(0.19px) rotate(0.03deg) scaleX(1.0382);">Risk/Return</span>
<span class="t" style="font-size:6.8px;color:#222;font-weight:bold;top:124px;line-height:8.16px;left:601.90px;transform-origin:0 50%;transform:translateY(0.90px) rotate(0.03deg) scaleX(1.0057);">Potential Downside: -$181K</span>
<span class="t" style="font-size:6.8px;color:#222;font-weight:bold;top:124px;line-height:8.16px;left:739.90px;transform-origin:0 50%;transform:translateY(0.90px) rotate(0.03deg) scaleX(1.0236);">Potential Downside: -$54,897</span>
<span class="t" style="font-size:6.8px;color:#222;font-weight:bold;top:232px;line-height:8.16px;left:596.90px;transform-origin:0 50%;transform:translateY(0.90px) rotate(0.03deg) scaleX(1.0023);">Expected Return (5Yr): +$112K</span>
<span class="t" style="font-size:6.8px;color:#222;font-weight:bold;top:232px;line-height:8.16px;left:734.90px;transform-origin:0 50%;transform:translateY(0.90px) rotate(0.03deg) scaleX(1.0127);">Expected Return (5Yr): +$72,038</span>
<span class="t k" style="font-size:7px;color:#333;top:247px;line-height:8.40px;left:576.40px;transform-origin:0 50%;transform:translateY(0.38px) rotate(0.03deg) scaleX(1.0102);"><b style="color:#222">Historical Calcs Timeframe:</b> February 3, 2011 to April 23, 2019</span>
<span class="t" style="font-size:14.8px;color:#fff;font-weight:bold;top:168px;line-height:17.76px;left:625.30px;transform:translate(-50%,0.29px) rotate(0.03deg) scaleX(0.8700);letter-spacing:-0.1px;"><span style="font-weight:normal;-webkit-text-stroke:0.3px #fff">-45</span><span style="font-size:7.4px;letter-spacing:0">%</span></span>
<span class="t" style="font-size:14.8px;color:#fff;font-weight:bold;top:181px;line-height:17.76px;left:669.50px;transform:translate(-50%,0.89px) rotate(0.03deg) scaleX(0.8700);letter-spacing:-0.1px;"><span style="font-weight:normal;-webkit-text-stroke:0.3px #fff">+28</span><span style="font-size:7.4px;letter-spacing:0">%</span></span>
<span class="t" style="font-size:14.8px;color:#fff;font-weight:bold;top:168px;line-height:17.76px;left:766.00px;transform:translate(-50%,0.29px) rotate(0.03deg) scaleX(0.8700);letter-spacing:-0.1px;"><span style="font-weight:normal;-webkit-text-stroke:0.3px #fff">-14</span><span style="font-size:7.4px;letter-spacing:0">%</span></span>
<span class="t" style="font-size:14.8px;color:#fff;font-weight:bold;top:181px;line-height:17.76px;left:810.30px;transform:translate(-50%,0.89px) rotate(0.03deg) scaleX(0.8700);letter-spacing:-0.1px;"><span style="font-weight:normal;-webkit-text-stroke:0.3px #fff">+18</span><span style="font-size:7.4px;letter-spacing:0">%</span></span>
<span class="t" style="font-size:7.4px;color:#222;font-weight:bold;top:261px;line-height:8.88px;left:505.40px;transform-origin:0 50%;transform:translateY(0.95px) rotate(0.03deg);-webkit-text-stroke:0;">Risk Stats</span>
<span class="t k" style="font-size:7.75px;color:#2e2e2e;top:276px;line-height:9.30px;left:505.00px;transform-origin:0 50%;transform:translateY(0.54px) rotate(0.03deg);">Stress Test Risk</span>
<span class="t k" style="font-size:7.4px;color:#2e2e2e;top:277px;line-height:8.88px;left:646.50px;transform:translate(-50%,0.15px) rotate(0.03deg);">-45%</span>
<span class="t" style="font-size:7.35px;color:#2a9d5c;top:277px;line-height:8.82px;left:788.00px;transform:translate(-50%,0.22px) rotate(0.03deg);-webkit-text-stroke:0.2px #2a9d5c;">-14%</span>
<span class="t k" style="font-size:7.75px;color:#2e2e2e;top:291px;line-height:9.30px;left:505.00px;transform-origin:0 50%;transform:translateY(0.29px) rotate(0.03deg);">Correlation Risk</span>
<span class="t k" style="font-size:7.4px;color:#2e2e2e;top:291px;line-height:8.88px;left:646.50px;transform:translate(-50%,0.90px) rotate(0.03deg);">0.50</span>
<span class="t" style="font-size:7.35px;color:#2a9d5c;top:291px;line-height:8.82px;left:788.00px;transform:translate(-50%,0.97px) rotate(0.03deg);-webkit-text-stroke:0.2px #2a9d5c;">0.27</span>
<span class="t k" style="font-size:7.75px;color:#2e2e2e;top:306px;line-height:9.30px;left:505.00px;transform-origin:0 50%;transform:translateY(0.29px) rotate(0.03deg);">S&amp;P 500 Beta</span>
<span class="t k" style="font-size:7.4px;color:#2e2e2e;top:306px;line-height:8.88px;left:646.50px;transform:translate(-50%,0.90px) rotate(0.03deg);">0.80</span>
<span class="t" style="font-size:7.35px;color:#2a9d5c;top:306px;line-height:8.82px;left:788.00px;transform:translate(-50%,0.97px) rotate(0.03deg);-webkit-text-stroke:0.2px #2a9d5c;">0.29</span>
<span class="t" style="font-size:7.4px;color:#222;font-weight:bold;top:321px;line-height:8.88px;left:505.40px;transform-origin:0 50%;transform:translateY(0.95px) rotate(0.03deg);-webkit-text-stroke:0;">Performance Stats</span>
<span class="t k" style="font-size:7.75px;color:#2e2e2e;top:336px;line-height:9.30px;left:505.00px;transform-origin:0 50%;transform:translateY(0.29px) rotate(0.03deg);">Total Return<sup style="font-size:4px;line-height:0;vertical-align:3px">*</sup></span>
<span class="t" style="font-size:7.35px;color:#2a9d5c;top:336px;line-height:8.82px;left:646.50px;transform:translate(-50%,0.97px) rotate(0.03deg);-webkit-text-stroke:0.2px #2a9d5c;">171.10%</span>
<span class="t k" style="font-size:7.4px;color:#2e2e2e;top:336px;line-height:8.88px;left:788.00px;transform:translate(-50%,0.90px) rotate(0.03deg);">17.14%</span>
<span class="t k" style="font-size:7.75px;color:#2e2e2e;top:351px;line-height:9.30px;left:505.00px;transform-origin:0 50%;transform:translateY(0.54px) rotate(0.03deg);">Max Drawdown</span>
<span class="t k" style="font-size:7.4px;color:#2e2e2e;top:352px;line-height:8.88px;left:646.50px;transform:translate(-50%,0.15px) rotate(0.03deg);">-15.56%</span>
<span class="t" style="font-size:7.35px;color:#2a9d5c;top:352px;line-height:8.82px;left:788.00px;transform:translate(-50%,0.22px) rotate(0.03deg);-webkit-text-stroke:0.2px #2a9d5c;">-9.11%</span>
<span class="t k" style="font-size:7.75px;color:#2e2e2e;top:366px;line-height:9.30px;left:505.00px;transform-origin:0 50%;transform:translateY(0.54px) rotate(0.03deg);">Volatility</span>
<span class="t k" style="font-size:7.4px;color:#2e2e2e;top:367px;line-height:8.88px;left:646.50px;transform:translate(-50%,0.15px) rotate(0.03deg);">8.27%</span>
<span class="t" style="font-size:7.35px;color:#2a9d5c;top:367px;line-height:8.82px;left:788.00px;transform:translate(-50%,0.22px) rotate(0.03deg);-webkit-text-stroke:0.2px #2a9d5c;">3.76%</span>
<span class="t" style="font-size:7.4px;color:#222;font-weight:bold;top:382px;line-height:8.88px;left:505.40px;transform-origin:0 50%;transform:translateY(0.45px) rotate(0.03deg);-webkit-text-stroke:0;">Portfolio Stats</span>
<span class="t k" style="font-size:7.75px;color:#2e2e2e;top:396px;line-height:9.30px;left:505.00px;transform-origin:0 50%;transform:translateY(0.79px) rotate(0.03deg);">Yield</span>
<span class="t k" style="font-size:7.4px;color:#2e2e2e;top:397px;line-height:8.88px;left:646.50px;transform:translate(-50%,0.40px) rotate(0.03deg);">1.94%</span>
<span class="t" style="font-size:7.35px;color:#2a9d5c;top:397px;line-height:8.82px;left:788.00px;transform:translate(-50%,0.47px) rotate(0.03deg);-webkit-text-stroke:0.2px #2a9d5c;">3.55%</span>
<span class="t k" style="font-size:7.75px;color:#2e2e2e;top:412px;line-height:9.30px;left:505.00px;transform-origin:0 50%;transform:translateY(0.04px) rotate(0.03deg);">Sharpe Ratio</span>
<span class="t" style="font-size:7.35px;color:#2a9d5c;top:412px;line-height:8.82px;left:646.50px;transform:translate(-50%,0.72px) rotate(0.03deg);-webkit-text-stroke:0.2px #2a9d5c;">1.26</span>
<span class="t k" style="font-size:7.4px;color:#2e2e2e;top:412px;line-height:8.88px;left:788.00px;transform:translate(-50%,0.65px) rotate(0.03deg);">-0.14</span>
<span class="t k" style="font-size:7.75px;color:#2e2e2e;top:427px;line-height:9.30px;left:505.00px;transform-origin:0 50%;transform:translateY(0.04px) rotate(0.03deg);">Sortino Ratio</span>
<span class="t" style="font-size:7.35px;color:#2a9d5c;top:427px;line-height:8.82px;left:646.50px;transform:translate(-50%,0.72px) rotate(0.03deg);-webkit-text-stroke:0.2px #2a9d5c;">1.70</span>
<span class="t k" style="font-size:7.4px;color:#2e2e2e;top:427px;line-height:8.88px;left:788.00px;transform:translate(-50%,0.65px) rotate(0.03deg);">-0.18</span>
<span class="t" style="font-size:7.4px;color:#222;font-weight:bold;top:443px;line-height:8.88px;left:505.40px;transform-origin:0 50%;transform:translateY(0.20px) rotate(0.03deg);-webkit-text-stroke:0;">Expenses</span>
<span class="t k" style="font-size:7.75px;color:#2e2e2e;top:457px;line-height:9.30px;left:505.00px;transform-origin:0 50%;transform:translateY(0.54px) rotate(0.03deg);">Expense Ratio</span>
<span class="t" style="font-size:7.35px;color:#2a9d5c;top:458px;line-height:8.82px;left:646.50px;transform:translate(-50%,0.22px) rotate(0.03deg);-webkit-text-stroke:0.2px #2a9d5c;">0.07%</span>
<span class="t k" style="font-size:7.4px;color:#2e2e2e;top:458px;line-height:8.88px;left:788.00px;transform:translate(-50%,0.15px) rotate(0.03deg);">1.19%</span>
<span class="t k" style="font-size:7.75px;color:#2e2e2e;top:472px;line-height:9.30px;left:505.00px;transform-origin:0 50%;transform:translateY(0.29px) rotate(0.03deg);">Fee %</span>
<span class="t" style="font-size:7.35px;color:#2a9d5c;top:472px;line-height:8.82px;left:646.50px;transform:translate(-50%,0.97px) rotate(0.03deg);-webkit-text-stroke:0.2px #2a9d5c;">2.00</span>
<span class="t" style="font-size:7.35px;color:#2a9d5c;top:472px;line-height:8.82px;left:788.00px;transform:translate(-50%,0.97px) rotate(0.03deg);-webkit-text-stroke:0.2px #2a9d5c;">2.00</span>
<span class="t k" style="font-size:7.3px;color:#333;top:485px;line-height:8.76px;left:503.90px;transform-origin:0 50%;transform:translateY(0.40px) rotate(0.03deg) scaleX(1.0230);"><sup style="font-size:4px;line-height:0;vertical-align:2.5px">*</sup> The hypothetical total return may not include all deducted fees (e.g. AUM fee) and charges inherent to</span>
<span class="t k" style="font-size:7.3px;color:#333;top:495px;line-height:8.76px;left:503.90px;transform-origin:0 50%;transform:translateY(0.40px) rotate(0.03deg) scaleX(1.0346);">investing.</span>
</body></html>
